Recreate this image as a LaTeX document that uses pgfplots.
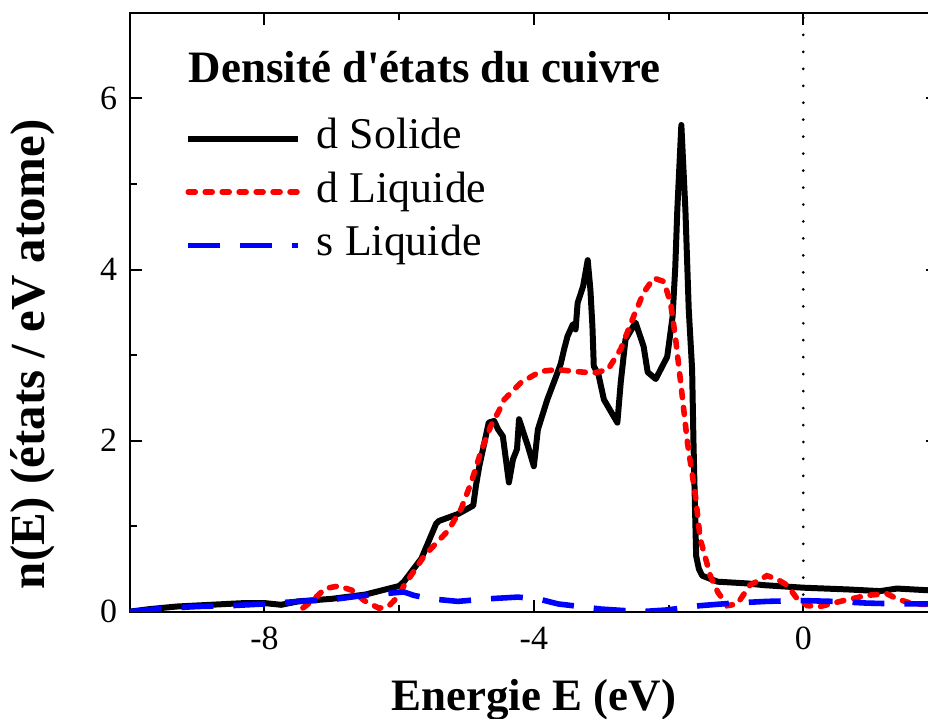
\documentclass[border=0pt]{standalone}
\usepackage{fontspec}
\setmainfont{Liberation Serif}
\usepackage{pgfplots}
\pgfplotsset{compat=1.18}

\definecolor{dsol}{HTML}{000000}
\definecolor{dliq}{HTML}{FF0000}
\definecolor{sliq}{HTML}{0000FF}

\begin{document}
\begin{tikzpicture}
\begin{axis}[
    scale only axis,
    width=405pt, height=300pt,
    xmin=-10, xmax=2, ymin=0, ymax=7,
    xtick={-8,-4,0}, minor xtick={-10,-6,-2,2},
    ytick={0,2,4,6}, minor ytick={1,3,5},
    major tick length=6pt, minor tick length=3.5pt,
    every tick/.style={black, line width=1pt},
    axis line style={line width=1pt},
    /pgf/number format/assume math mode=true,
    tick label style={font=\rmfamily\fontsize{17}{20}\selectfont},
    xticklabel style={yshift=-4pt},
    yticklabel style={xshift=-2.8pt},
    xlabel={Energie E (eV)},
    ylabel={n(E) (états / eV atome)},
    xlabel style={font=\bfseries\fontsize{22.5}{26}\selectfont,
        at={(axis description cs:0.5,-0.165)}, anchor=base},
    ylabel style={font=\bfseries\fontsize{24.5}{28}\selectfont,
        at={(axis description cs:-0.106,0.43)}, anchor=base},
    legend image code/.code={\draw[#1] (0pt,0pt) -- (55pt,0pt);},
    legend cell align=left,
    legend style={
        at={(axis cs:-9.27,5.815)}, anchor=north west,
        draw=none, fill=none,
        font=\fontsize{22}{26}\selectfont,
        row sep=6.75pt,
        nodes={inner sep=0pt, text height=15pt, text depth=5pt},
        /tikz/every odd column/.append style={column sep=8pt},
    },
]
\addplot[dsol, line width=3pt, line join=round] coordinates {
(-10,0) (-9.7,0.03) (-9.3,0.06) (-8.8,0.08) (-8.3,0.1) (-8.0,0.1) (-7.75,0.08)
(-7.5,0.12) (-7.0,0.15) (-6.5,0.2) (-6.0,0.3) (-5.93,0.35) (-5.67,0.62) (-5.45,1.03)
(-5.41,1.06) (-5.13,1.14) (-4.9,1.24) (-4.86,1.47) (-4.81,1.7) (-4.67,2.21)
(-4.59,2.23) (-4.53,2.13) (-4.46,2.05) (-4.41,1.75) (-4.37,1.51) (-4.31,1.78)
(-4.25,1.9) (-4.22,2.25) (-4.09,1.94) (-4.0,1.7) (-3.94,2.13) (-3.8,2.48)
(-3.67,2.75) (-3.6,2.9) (-3.55,3.07) (-3.5,3.22) (-3.42,3.36) (-3.38,3.3) (-3.35,3.61)
(-3.27,3.8) (-3.2,4.11) (-3.16,3.76) (-3.13,3.33) (-3.11,2.87) (-3.04,2.77)
(-2.96,2.48) (-2.76,2.21) (-2.71,2.68) (-2.64,3.18) (-2.49,3.38) (-2.37,3.1)
(-2.31,2.8) (-2.19,2.72) (-2.02,2.98) (-1.94,3.45) (-1.9,4.03) (-1.87,4.7)
(-1.81,5.69) (-1.75,4.7) (-1.7,3.53) (-1.65,2.83) (-1.63,1.98) (-1.6,0.97)
(-1.59,0.65) (-1.55,0.5) (-1.5,0.42) (-1.27,0.35) (-0.83,0.33) (-0.59,0.31) (0,0.28)
(0.65,0.26) (1.14,0.24) (1.39,0.27) (1.85,0.25) (2,0.25)
};
\addlegendentry{d Solide}
\addplot[dliq, line width=2.8pt, line cap=round, dash pattern=on 3.5pt off 5pt] coordinates {
(-7.6,-0.1) (-7.5,0) (-7.3,0.12) (-7.1,0.27) (-6.9,0.3) (-6.7,0.25) (-6.52,0.13)
(-6.3,0.04) (-6.16,0.06) (-6.0,0.19) (-5.93,0.3) (-5.8,0.45) (-5.63,0.65)
(-5.45,0.8) (-5.27,0.95) (-5.08,1.2) (-4.93,1.51) (-4.79,1.86) (-4.64,2.17)
(-4.53,2.33) (-4.44,2.48) (-4.19,2.68) (-3.9,2.81) (-3.65,2.83) (-3.41,2.81)
(-3.11,2.79) (-2.9,2.83) (-2.71,3.07) (-2.52,3.45) (-2.37,3.73) (-2.22,3.9)
(-2.07,3.86) (-1.97,3.61) (-1.9,3.22) (-1.82,2.68) (-1.72,1.98) (-1.6,1.35)
(-1.53,0.85) (-1.38,0.42) (-1.27,0.23) (-1.13,0.07) (-0.98,0.09) (-0.79,0.31)
(-0.54,0.42) (-0.39,0.38) (-0.24,0.31) (-0.09,0.15) (0.06,0.07) (0.25,0.06)
(0.55,0.12) (0.94,0.19) (1.24,0.21) (1.39,0.15) (1.63,0.09) (2,0.08)
};
\addlegendentry{d Liquide}
\addplot[sliq, line width=2.8pt, dash pattern=on 16pt off 10pt] coordinates {
(-10,0) (-9.48,0.04) (-8.98,0.06) (-8.49,0.07) (-8.0,0.09) (-7.5,0.12) (-7.0,0.14)
(-6.52,0.19) (-5.93,0.23) (-5.78,0.19) (-5.53,0.15) (-5.13,0.12) (-4.68,0.15)
(-4.24,0.17) (-3.94,0.15) (-3.64,0.09) (-3.0,0.03) (-2.41,0.0) (-2.02,0.02)
(-1.53,0.07) (-1.04,0.1) (-0.54,0.12) (-0.04,0.13) (0.44,0.12) (0.94,0.1)
(1.44,0.09) (2,0.09)
};
\addlegendentry{s Liquide}
\addplot[black, line width=1.5pt, line cap=round, dash pattern=on 0pt off 8.5pt, forget plot] coordinates {(0,0) (0,7)};
\node[anchor=base west, font=\bfseries\fontsize{22.5}{26}\selectfont, inner sep=0pt]
    at (axis cs:-9.126,6.19) {Densité d\textquotesingle états du cuivre};
\coordinate (bbsw) at (axis cs:-11.926,-1.247);
\coordinate (bbne) at (axis cs:1.8519,7.1515);
\end{axis}
\pgfresetboundingbox
\useasboundingbox (bbsw) rectangle (bbne);
\end{tikzpicture}
\end{document}
